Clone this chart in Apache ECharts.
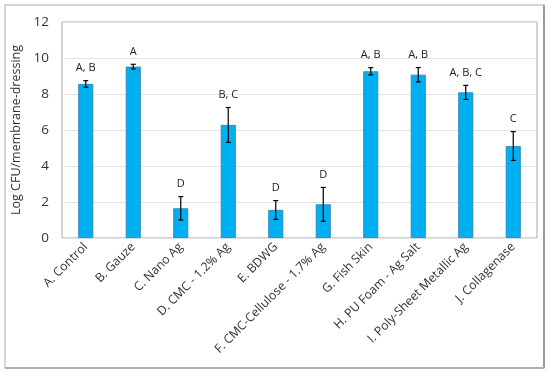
<!DOCTYPE html>
<html>
<head>
<meta charset="utf-8">
<script src="https://cdn.jsdelivr.net/npm/echarts@6/dist/echarts.min.js"></script>
<style>
html,body{margin:0;padding:0;background:#fff;}
#c{width:550px;height:375px;}
</style>
</head>
<body>
<div id="c"></div>
<script>
const categories = ["A. Control","B. Gauze","C. Nano Ag","D. CMC - 1.2% Ag","E. BDWG","F. CMC-Cellulose - 1.7% Ag","G. Fish Skin","H. PU Foam - Ag Salt","I. Poly-Sheet Metallic Ag","J. Collagenase"];
const means = [8.56, 9.52, 1.65, 6.28, 1.56, 1.87, 9.26, 9.07, 8.09, 5.11];
const errors = [0.18, 0.13, 0.65, 0.97, 0.52, 0.94, 0.2, 0.4, 0.39, 0.8];
const groups = ["A, B","A","D","B, C","D","D","A, B","A, B","A, B, C","C"];
const yTicks = [0, 2, 4, 6, 8, 10, 12];

const chart = echarts.init(document.getElementById('c'), null, {renderer:'canvas'});
const font = "'Open Sans', 'Liberation Sans', sans-serif";
chart.setOption({
  animation: false,
  backgroundColor: '#fff',
  graphic: [
    {type:'rect', shape:{x:5, y:5, width:539, height:363}, style:{fill:'none', stroke:'#c8c8c8', lineWidth:1.5}, z:-1},
    {type:'line', shape:{x1:544, y1:5, x2:544, y2:368}, style:{stroke:'#9a9a9a', lineWidth:2}},
    {type:'line', shape:{x1:5, y1:368, x2:544, y2:368}, style:{stroke:'#b0b0b0', lineWidth:2}}
  ],
  grid: {left:62, right:13, top:22, bottom:137, show:true, borderColor:'#a6a6a6', borderWidth:1},
  xAxis: {
    type:'category', data:categories,
    axisTick:{show:false}, axisLine:{show:false},
    axisLabel:{rotate:45, fontSize:12.3, color:'#333', fontFamily:font, interval:0, margin:7}
  },
  yAxis: {
    type:'value', min:0, max:12, interval:2,
    name:'Log CFU/membrane-dressing', nameLocation:'middle', nameGap:36,
    nameTextStyle:{fontSize:12.5, color:'#333', fontFamily:font},
    axisLine:{show:false}, axisTick:{show:false},
    axisLabel:{fontSize:13.5, color:'#333', fontFamily:font, margin:13,
      formatter: v => yTicks.includes(v) ? String(v) : ''},
    splitLine:{lineStyle:{color:'#e3e3e3', width:1}}
  },
  series: [
    {type:'bar', data:means, barWidth:15,
     itemStyle:{color:'#00b0f0', borderColor:'#2a7db5', borderWidth:0.8}},
    {type:'custom', data:means.map((m,i)=>[i,m,errors[i],groups[i]]),
     encode:{x:0, y:1}, z:10,
     renderItem:(params, api)=>{
       const i = api.value(0), m = api.value(1), e = api.value(2);
       const top = api.coord([i, m+e]), bot = api.coord([i, m-e]);
       const x = top[0], hw = 2.5;
       const st = {stroke:'#000', lineWidth:1.2};
       return {type:'group', children:[
         {type:'line', shape:{x1:x, y1:top[1], x2:x, y2:bot[1]}, style:st},
         {type:'line', shape:{x1:x-hw, y1:top[1], x2:x+hw, y2:top[1]}, style:st},
         {type:'line', shape:{x1:x-hw, y1:bot[1], x2:x+hw, y2:bot[1]}, style:st},
         {type:'text', x:x, y:top[1]-7, style:{text:groups[params.dataIndex], textAlign:'center', textVerticalAlign:'bottom', fontSize:11, fill:'#222', fontFamily:font}}
       ]};
     }}
  ]
});
</script>
</body>
</html>
